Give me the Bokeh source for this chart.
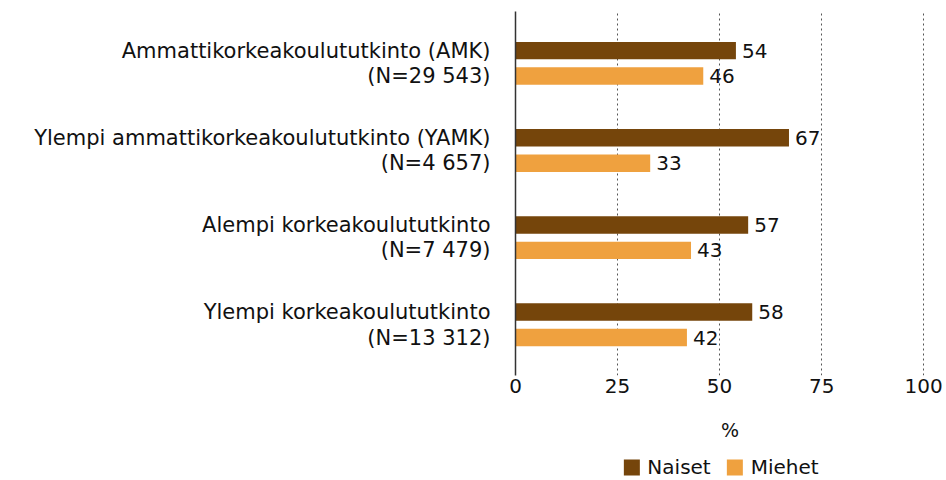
from bokeh.plotting import figure
from bokeh.layouts import column, row
from bokeh.models import (ColumnDataSource, Range1d, FixedTicker, LabelSet, Legend, LegendItem, Spacer)
from bokeh.core.properties import value
from bokeh.transform import dodge
from bokeh.embed import file_html
from bokeh.resources import INLINE

cat_line1 = [
    "Ammattikorkeakoulututkinto (AMK)",
    "Ylempi ammattikorkeakoulututkinto (YAMK)",
    "Alempi korkeakoulututkinto",
    "Ylempi korkeakoulututkinto",
]
cat_line2 = ["(N=29 543)", "(N=4 657)", "(N=7 479)", "(N=13 312)"]
naiset = [54, 67, 57, 58]
miehet = [46, 33, 43, 42]
x_ticks = [0, 25, 50, 75, 100]
series = ["Naiset", "Miehet"]

FONT = "DejaVu Sans"
C_N = "#75450B"
C_M = "#EFA13F"
TXT = "#111111"

n = len(cat_line1)
ypos = [n - 0.5 - i for i in range(n)]
src = ColumnDataSource(dict(y=ypos, naiset=naiset, miehet=miehet,
                            nl=[str(v) for v in naiset], ml=[str(v) for v in miehet]))

p = figure(width=944, height=443, output_backend="svg", toolbar_location=None,
           x_range=Range1d(0, 105.1), y_range=Range1d(-0.082, 4.095))
p.min_border_top = 11
p.min_border_right = 0
p.min_border_left = 515
p.min_border_bottom = 0
p.outline_line_color = None

off = 0.146
h = 0.2
rn = p.hbar(y=dodge("y", off), right="naiset", left=0, height=h, source=src,
            fill_color=C_N, line_color=None)
rm = p.hbar(y=dodge("y", -off), right="miehet", left=0, height=h, source=src,
            fill_color=C_M, line_color=None)

for col, lab, o in (("naiset", "nl", off), ("miehet", "ml", -off)):
    ls = LabelSet(x=col, y=dodge("y", o), text=lab, source=src, x_offset=6,
                  text_baseline="middle", text_font=value(FONT), text_font_size=value("20px"),
                  text_color=TXT)
    p.add_layout(ls)

# x axis
xa = p.xaxis[0]
xa.ticker = FixedTicker(ticks=x_ticks)
xa.axis_line_color = None
xa.major_tick_line_color = None
xa.minor_tick_line_color = None
xa.major_label_text_font = FONT
xa.major_label_text_font_size = "20px"
xa.major_label_text_color = TXT
xa.major_label_standoff = -3
xa.axis_label = "%"
xa.axis_label_text_font = FONT
xa.axis_label_text_font_size = "19px"
xa.axis_label_text_font_style = "normal"
xa.axis_label_text_color = TXT
xa.axis_label_standoff = 23

# y axis: two single-line labels per category
tick_pos = []
overrides = {}
for y, a, b in zip(ypos, cat_line1, cat_line2):
    tick_pos += [y + off, y - off]
    overrides[y + off] = a
    overrides[y - off] = b
ya = p.yaxis[0]
ya.ticker = FixedTicker(ticks=tick_pos)
ya.major_label_overrides = overrides
ya.axis_line_color = "#333333"
ya.axis_line_width = 1.5
ya.major_tick_line_color = None
ya.minor_tick_line_color = None
ya.major_label_text_font = FONT
ya.major_label_text_font_size = "21px"
ya.major_label_text_color = TXT
ya.major_label_standoff = 19

p.ygrid.grid_line_color = None
p.xgrid.ticker = FixedTicker(ticks=[25, 50, 75, 100])
p.xgrid.grid_line_color = "#555555"
p.xgrid.grid_line_dash = "2 3"
p.xgrid.grid_line_width = 1

# legend in a separate strip below
lg = figure(width=204, height=36, output_backend="svg", toolbar_location=None,
            x_range=Range1d(0, 1), y_range=Range1d(0, 1), min_border=0,
            x_axis_type=None, y_axis_type=None)
lg.grid.visible = False
lg.outline_line_color = None
ln = lg.hbar(y=[-10], right=[0], left=[0], height=0.1, fill_color=C_N, line_color=None)
lm = lg.hbar(y=[-10], right=[0], left=[0], height=0.1, fill_color=C_M, line_color=None)
legend = Legend(items=[LegendItem(label=series[0], renderers=[ln]),
                       LegendItem(label=series[1], renderers=[lm])],
                orientation="horizontal", location="bottom_center")
legend.label_text_font = FONT
legend.label_text_font_size = "20px"
legend.label_text_color = TXT
legend.glyph_width = 20
legend.glyph_height = 20
legend.label_standoff = 6
legend.spacing = 14
legend.padding = 0
legend.margin = 0
legend.border_line_color = None
legend.background_fill_alpha = 0
lg.add_layout(legend)

layout = column(p, row(Spacer(width=618, height=36), lg, spacing=0), spacing=0)
open("out.html", "w").write(file_html(layout, INLINE))
